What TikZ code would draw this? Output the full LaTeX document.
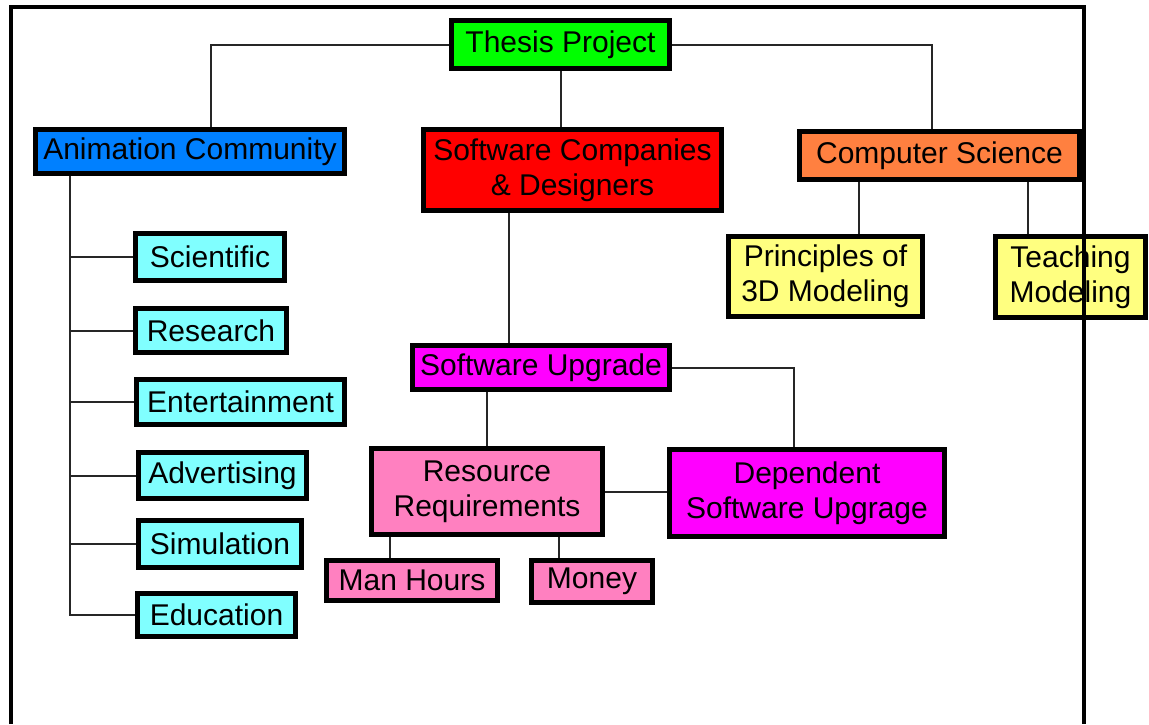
\documentclass[tikz,border=0pt]{standalone}
\usepackage{fontspec}
\setmainfont{Liberation Sans}
\definecolor{cgreen}{HTML}{00FF00}
\definecolor{cblue}{HTML}{0080FF}
\definecolor{cred}{HTML}{FF0000}
\definecolor{corange}{HTML}{FF8040}
\definecolor{cyellow}{HTML}{FFFF80}
\definecolor{ccyan}{HTML}{80FFFF}
\definecolor{cmag}{HTML}{FF00FF}
\definecolor{cpink}{HTML}{FF80C0}
\tikzset{
  box/.style={draw=black, line width=5pt, rectangle, inner sep=0pt, align=center,
    font=\fontsize{30pt}{35pt}\selectfont},
  link/.style={draw=black!85, line width=2pt},
  frame/.style={draw=black, line width=4pt}
}
\begin{document}
\begin{tikzpicture}[x=1pt,y=-1pt]
\useasboundingbox (0,0) rectangle (1149,724);
% nodes
\node[box, fill=cgreen, minimum width=218pt, minimum height=48pt] (thesis) at (560.5,44.5) {Thesis Project};
\node[box, fill=cblue, minimum width=309pt, minimum height=44pt] (anim) at (190,151.5) {Animation Community};
\node[box, fill=cred, minimum width=298pt, minimum height=81pt] (soft) at (572.5,170) {Software Companies\\\& Designers};
\node[box, fill=corange, minimum width=280pt, minimum height=48pt] (cs) at (939.5,155.5) {Computer Science};
\node[box, fill=cyellow, minimum width=194pt, minimum height=80pt] (princ) at (825.5,276.5) {Principles of\\3D Modeling};
\node[box, fill=cyellow, minimum width=150pt, minimum height=81pt] (teach) at (1070.5,277) {Teaching\\Modeling};
\node[box, fill=ccyan, minimum width=149pt, minimum height=47pt] (sci) at (210,257) {Scientific};
\node[box, fill=ccyan, minimum width=151pt, minimum height=44pt] (res) at (211,330.5) {Research};
\node[box, fill=ccyan, minimum width=208pt, minimum height=45pt] (ent) at (240.5,402) {Entertainment};
\node[box, fill=ccyan, minimum width=168pt, minimum height=46pt] (adv) at (222.5,475.5) {Advertising};
\node[box, fill=ccyan, minimum width=163pt, minimum height=47pt] (sim) at (220,544) {Simulation};
\node[box, fill=ccyan, minimum width=158pt, minimum height=43pt] (edu) at (216.5,615) {Education};
\node[box, fill=cmag, minimum width=257pt, minimum height=44pt] (su) at (541,367.5) {Software Upgrade};
\node[box, fill=cpink, minimum width=231pt, minimum height=86pt] (rr) at (487,491.5) {Resource\\Requirements};
\node[box, fill=cmag, minimum width=275pt, minimum height=87pt] (dep) at (807,493) {Dependent\\Software Upgrage};
\node[box, fill=cpink, minimum width=171pt, minimum height=40pt] (mh) at (412,580.5) {Man Hours};
\node[box, fill=cpink, minimum width=121pt, minimum height=42pt] (money) at (592,581.5) {Money};
% connectors
\draw[link] (thesis.west) -| ([xshift=21pt]anim.north);
\draw[link] (thesis.east) -| ([xshift=-7.5pt]cs.north);
\draw[link] (thesis.south) -- (thesis.south |- soft.north);
\draw[link] ([xshift=-63.5pt]soft.south) -- ([xshift=-32pt]su.north);
\draw[link] ([xshift=33.5pt]princ.north) -- ([xshift=33.5pt]princ.north |- cs.south);
\draw[link] ([xshift=-42.5pt]teach.north) -- ([xshift=-42.5pt]teach.north |- cs.south);
\coordinate (trunk) at ([xshift=-120pt]anim.south);
\draw[link] (trunk) |- (edu.west);
\draw[link] (sci.west) -- (sci.west -| trunk);
\draw[link] (res.west) -- (res.west -| trunk);
\draw[link] (ent.west) -- (ent.west -| trunk);
\draw[link] (adv.west) -- (adv.west -| trunk);
\draw[link] (sim.west) -- (sim.west -| trunk);
\draw[link] (rr.north) -- (rr.north |- su.south);
\draw[link] (su.east) -| ([xshift=-13pt]dep.north);
\draw[link] (rr.east) -- (rr.east -| dep.west);
\draw[link] ([xshift=-22pt]mh.north) -- ([xshift=-22pt]mh.north |- rr.south);
\draw[link] ([xshift=-33pt]money.north) -- ([xshift=-33pt]money.north |- rr.south);
% frame
\draw[frame] (11,724) -- (11,7) -- (1083.5,7) -- (1083.5,724);
\end{tikzpicture}
\end{document}
